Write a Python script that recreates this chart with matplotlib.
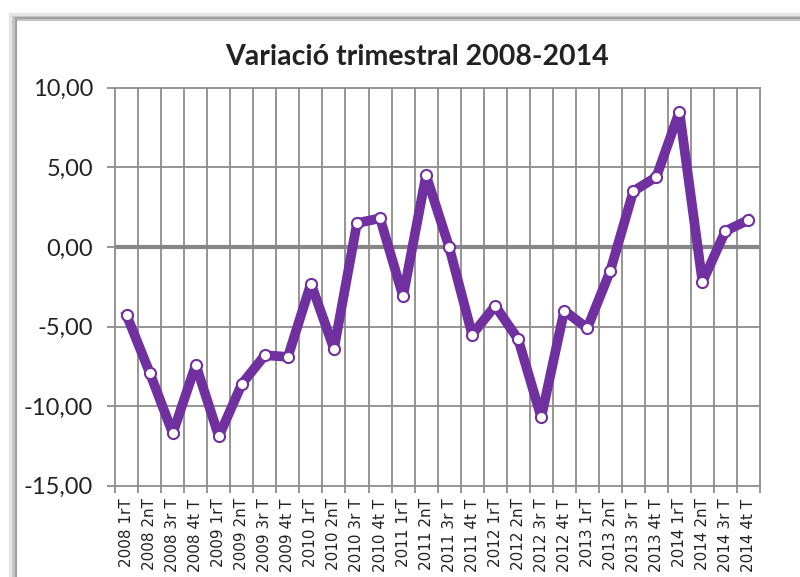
import matplotlib.pyplot as plt
from matplotlib.patches import Rectangle

years = ['2008', '2009', '2010', '2011', '2012', '2013', '2014']
quarters = ['1rT', '2nT', '3r T', '4t T']
labels = [y + ' ' + q for y in years for q in quarters]

values = [-4.3, -7.9, -11.7, -7.4, -11.9, -8.6, -6.8, -6.9,
          -2.3, -6.4, 1.5, 1.8, -3.1, 4.5, 0.0, -5.5,
          -3.7, -5.8, -10.7, -4.0, -5.1, -1.5, 3.5, 4.4,
          8.5, -2.2, 1.0, 1.7]

purple = '#7030A0'
grid_grey = '#8c8c8c'

fig = plt.figure(figsize=(8, 5.77), dpi=100)
ax = fig.add_axes([0.144, 0.158, 0.806, 0.69])

# chart frame with a soft shadow on the left
for off, lw, col in [(0.016, 6, '#e6e6e6'), (0.018, 3.5, '#c4c4c4'), (0.0205, 1.2, '#9a9a9a')]:
    fig.patches.append(Rectangle((off, -0.05), 1.1, 1.02 + 0.003 - off * 0.2,
                                 transform=fig.transFigure, fill=False,
                                 edgecolor=col, linewidth=lw, zorder=0))

x = list(range(len(labels)))
ax.plot(x, values, color=purple, linewidth=7, marker='o', markersize=8,
        markerfacecolor='white', markeredgecolor=purple, markeredgewidth=1.5,
        zorder=4)

ax.set_xlim(-0.5, len(labels) - 0.5)
ax.set_ylim(-15, 10)
ax.set_yticks([-15, -10, -5, 0, 5, 10])
ax.set_yticklabels(['-15,00', '-10,00', '-5,00', '0,00', '5,00', '10,00'],
                   fontsize=17, family='Lato', color='#222222')

# vertical grid on category boundaries
for b in range(1, len(labels)):
    ax.axvline(b - 0.5, color=grid_grey, linewidth=1.3, zorder=1)
for yv in [-10, -5, 5]:
    ax.axhline(yv, color=grid_grey, linewidth=1.3, zorder=1)
ax.axhline(0, color='#868686', linewidth=3, zorder=2)

ax.set_xticks([b - 0.5 for b in range(len(labels) + 1)], minor=True)
ax.set_xticks(x)
ax.set_xticklabels(labels, rotation=90, fontsize=11, color='#222222')
ax.tick_params(axis='x', which='major', length=0, pad=9)
ax.tick_params(axis='x', which='minor', length=5, color=grid_grey, width=1.3)
ax.tick_params(axis='y', length=6, color=grid_grey, width=1.3, pad=10)

for s in ax.spines.values():
    s.set_color(grid_grey)
    s.set_linewidth(1.3)

fig.text(0.521, 0.901, 'Variació trimestral 2008-2014', ha='center', va='center',
         fontsize=20.5, fontweight='bold', family='Lato', color='#222222')

plt.savefig('out.png', dpi=100)
